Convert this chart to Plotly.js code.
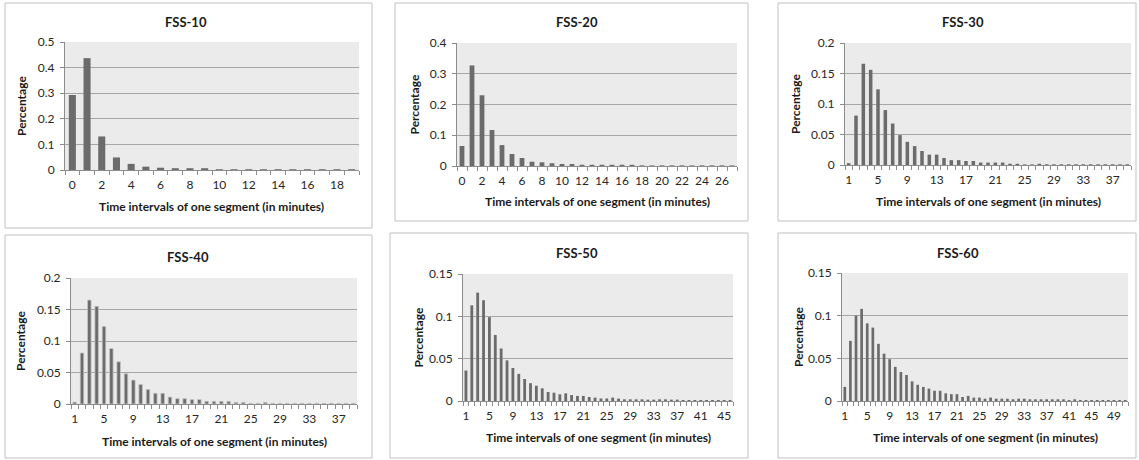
<!DOCTYPE html>
<html><head><meta charset="utf-8">
<script src="https://cdn.plot.ly/plotly-3.0.1.min.js"></script>
<style>html,body{margin:0;padding:0;background:#fff}#chart{width:1139px;height:460px}</style>
</head><body><div id="chart"></div>
<script>
// ---------- DATA ----------
const fss10Cats = [0,1,2,3,4,5,6,7,8,9,10,11,12,13,14,15,16,17,18,19];
const fss10Vals = [0.293,0.437,0.131,0.049,0.024,0.013,0.009,0.007,0.007,0.007,0.003,0.003,0.003,0.003,0.003,0.003,0.003,0.003,0.003,0.003];
const fss10Ticks = [0,2,4,6,8,10,12,14,16,18];

const fss20Cats = [0,1,2,3,4,5,6,7,8,9,10,11,12,13,14,15,16,17,18,19,20,21,22,23,24,25,26,27];
const fss20Vals = [0.065,0.327,0.230,0.117,0.068,0.039,0.026,0.014,0.012,0.009,0.0065,0.0065,0.004,0.004,0.004,0.004,0.004,0.004,0.002,0.002,0.002,0.002,0.002,0.002,0.002,0.002,0.002,0.002];
const fss20Ticks = [0,2,4,6,8,10,12,14,16,18,20,22,24,26];

const fss30Cats = [1,2,3,4,5,6,7,8,9,10,11,12,13,14,15,16,17,18,19,20,21,22,23,24,25,26,27,28,29,30,31,32,33,34,35,36,37,38,39];
const fss30Vals = [0.003,0.081,0.166,0.156,0.124,0.090,0.068,0.049,0.038,0.031,0.023,0.017,0.017,0.0115,0.008,0.008,0.0066,0.0066,0.004,0.004,0.004,0.004,0.002,0.002,0.001,0.001,0.002,0.0012,0.0012,0.0012,0.0012,0.0012,0.0012,0.0012,0.0012,0.0012,0.0012,0.0012,0.0012];
const fss30Ticks = [1,5,9,13,17,21,25,29,33,37];

const fss40Cats = [1,2,3,4,5,6,7,8,9,10,11,12,13,14,15,16,17,18,19,20,21,22,23,24,25,26,27,28,29,30,31,32,33,34,35,36,37,38,39];
const fss40Vals = [0.003,0.081,0.165,0.155,0.123,0.088,0.067,0.048,0.038,0.031,0.023,0.017,0.017,0.011,0.0085,0.0085,0.007,0.007,0.0042,0.0042,0.0042,0.0042,0.0026,0.0026,0.001,0.001,0.0026,0.001,0.001,0.001,0.001,0.001,0.001,0.001,0.001,0.001,0.001,0.001,0.001];
const fss40Ticks = [1,5,9,13,17,21,25,29,33,37];

const fss50Cats = [1,2,3,4,5,6,7,8,9,10,11,12,13,14,15,16,17,18,19,20,21,22,23,24,25,26,27,28,29,30,31,32,33,34,35,36,37,38,39,40,41,42,43,44,45,46];
const fss50Vals = [0.036,0.113,0.128,0.119,0.099,0.078,0.062,0.048,0.039,0.032,0.026,0.021,0.018,0.015,0.0106,0.0098,0.0079,0.009,0.007,0.006,0.006,0.0047,0.004,0.003,0.003,0.004,0.0028,0.002,0.002,0.002,0.002,0.0016,0.0016,0.002,0.002,0.0016,0.0016,0.0012,0.0012,0.0012,0.0012,0.0012,0.0012,0.0012,0.0012,0.0012];
const fss50Ticks = [1,5,9,13,17,21,25,29,33,37,41,45];

const fss60Cats = [1,2,3,4,5,6,7,8,9,10,11,12,13,14,15,16,17,18,19,20,21,22,23,24,25,26,27,28,29,30,31,32,33,34,35,36,37,38,39,40,41,42,43,44,45,46,47,48,49,50,51];
const fss60Vals = [0.0165,0.0705,0.100,0.108,0.091,0.086,0.067,0.0555,0.049,0.040,0.034,0.0305,0.023,0.019,0.0165,0.0145,0.012,0.012,0.009,0.008,0.008,0.0047,0.006,0.004,0.004,0.0027,0.004,0.0027,0.0027,0.0027,0.002,0.0027,0.0027,0.002,0.002,0.002,0.002,0.002,0.002,0.002,0.0012,0.002,0.0012,0.0012,0.0012,0.0012,0.0012,0.0012,0.0012,0.0012,0.0012];
const fss60Ticks = [1,5,9,13,17,21,25,29,33,37,41,45,49];

const panelTitles = ["FSS-10","FSS-20","FSS-30","FSS-40","FSS-50","FSS-60"];
const xTitle = "Time intervals of one segment (in minutes)";
const yTitle = "Percentage";

// ---------- LAYOUT / STYLE ----------
const W = 1139, H = 460;
const FONT = "Lato, 'Open Sans', sans-serif";
const panels = [
  {cats:fss10Cats, vals:fss10Vals, ticks:fss10Ticks, ymax:0.5, dy:0.1,
   plot:[65,42,359,170], box:[5,3,372,228], tY:22, tX:186, xtY:207, ytX:21},
  {cats:fss20Cats, vals:fss20Vals, ticks:fss20Ticks, ymax:0.4, dy:0.1,
   plot:[457,43,737,166], box:[395,3,748,221], tY:22, tX:577, xtY:201, ytX:414},
  {cats:fss30Cats, vals:fss30Vals, ticks:fss30Ticks, ymax:0.2, dy:0.05,
   plot:[845,43,1131,165], box:[778,3,1136,221], tY:22, tX:963, xtY:201, ytX:795},
  {cats:fss40Cats, vals:fss40Vals, ticks:fss40Ticks, ymax:0.2, dy:0.05, outline:true,
   plot:[71,278,357,404], box:[5,235,372,458], tY:257, tX:188, xtY:441, ytX:20},
  {cats:fss50Cats, vals:fss50Vals, ticks:fss50Ticks, ymax:0.15, dy:0.05,
   plot:[463,274,733,401], box:[390,233,748,458], tY:253, tX:577, xtY:437, ytX:418},
  {cats:fss60Cats, vals:fss60Vals, ticks:fss60Ticks, ymax:0.15, dy:0.05,
   plot:[842,273,1128,401], box:[778,233,1136,458], tY:253, tX:958, xtY:437, ytX:798}
];

const px = v => v / W;
const py = v => 1 - v / H;

const data = [];
const layout = {
  width: W, height: H,
  margin: {l:0, r:0, t:0, b:0},
  paper_bgcolor: "#ffffff",
  showlegend: false,
  bargap: 0.52,
  font: {family: FONT, color: "#262626", size: 12},
  shapes: [], annotations: []
};

panels.forEach((p, i) => {
  const n = i === 0 ? "" : String(i + 1);
  const xa = "x" + n, ya = "y" + n;
  const first = p.cats[0], last = p.cats[p.cats.length - 1];
  data.push({
    type: "bar", x: p.cats, y: p.vals, xaxis: xa, yaxis: ya,
    marker: {color: "#6b6b6b", line: p.outline ? {color: "#c4c4c4", width: 0.8} : {width: 0}},
    hoverinfo: "x+y"
  });
  layout["xaxis" + n] = {
    domain: [px(p.plot[0]), px(p.plot[2])],
    anchor: ya,
    range: [first - 0.5, last + 0.5],
    tickmode: "array", tickvals: p.ticks, ticktext: p.ticks.map(String),
    ticks: "", showgrid: false, zeroline: false,
    showline: true, linecolor: "#8c8c8c", linewidth: 1,
    tickfont: {family: FONT, size: 12, color: "#262626"},
    ticklabelstandoff: 4,
    minor: {tickmode: "linear", tick0: first - 0.5, dtick: 1, ticks: "outside",
            ticklen: 4, tickcolor: "#8c8c8c", tickwidth: 1, showgrid: false},
    fixedrange: true
  };
  layout["yaxis" + n] = {
    domain: [py(p.plot[3]), py(p.plot[1])],
    anchor: xa,
    range: [0, p.ymax], dtick: p.dy, tick0: 0,
    showgrid: true, gridcolor: "#a6a6a6", gridwidth: 1,
    zeroline: false, showline: true, linecolor: "#8c8c8c", linewidth: 1,
    ticks: "outside", ticklen: 4, tickcolor: "#8c8c8c",
    tickfont: {family: FONT, size: 12, color: "#262626"},
    ticklabelstandoff: 3,
    fixedrange: true
  };
  layout.shapes.push({type: "rect", xref: "paper", yref: "paper",
    x0: px(p.box[0]), x1: px(p.box[2]), y0: py(p.box[3]), y1: py(p.box[1]),
    line: {color: "#c0c0c0", width: 1}, fillcolor: "rgba(0,0,0,0)", layer: "below"});
  layout.shapes.push({type: "rect", xref: "paper", yref: "paper",
    x0: px(p.plot[0]), x1: px(p.plot[2]), y0: py(p.plot[3]), y1: py(p.plot[1]),
    line: {width: 0}, fillcolor: "#ebebeb", layer: "below"});
  layout.annotations.push({text: "<b>" + panelTitles[i] + "</b>", xref: "paper", yref: "paper",
    x: px(p.tX), y: py(p.tY), xanchor: "center", yanchor: "middle", showarrow: false,
    font: {family: FONT, size: 13, color: "#1a1a1a"}});
  layout.annotations.push({text: "<b>" + xTitle + "</b>", xref: "paper", yref: "paper",
    x: px((p.plot[0] + p.plot[2]) / 2), y: py(p.xtY), xanchor: "center", yanchor: "middle", showarrow: false,
    font: {family: FONT, size: 12, color: "#1a1a1a"}});
  layout.annotations.push({text: "<b>" + yTitle + "</b>", xref: "paper", yref: "paper",
    x: px(p.ytX), y: py((p.plot[1] + p.plot[3]) / 2), xanchor: "center", yanchor: "middle", showarrow: false,
    textangle: -90, font: {family: FONT, size: 12, color: "#1a1a1a"}});
});

Plotly.newPlot("chart", data, layout, {displayModeBar: false, staticPlot: true});
</script>
</body></html>
